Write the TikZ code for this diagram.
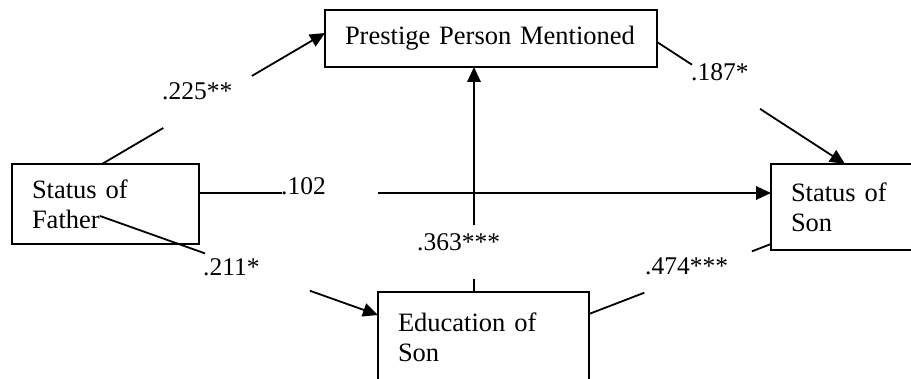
\documentclass[tikz,border=0pt]{standalone}
\usepackage{fontspec}
\setmainfont{Liberation Serif}
\usetikzlibrary{arrows.meta,calc}
\begin{document}
\begin{tikzpicture}[x=1pt,y=-1pt,
  box/.style={draw,line width=2.8pt,anchor=north west,outer sep=0pt,inner xsep=20pt,inner ysep=0pt,align=left,font=\fontsize{26.5}{30}\selectfont},
  lab/.style={anchor=base west,inner sep=0pt,font=\fontsize{25.5}{30}\selectfont},
  conn/.style={line width=1.8pt},
  arr/.style={conn,-{Triangle[length=15pt,width=13.5pt]}}]
\useasboundingbox (0,0) rectangle (911,379);
\clip (0,0) rectangle (911,379);
% boxes
\node[box,text width=292pt,minimum height=57pt] (pr) at (325,10) {Prestige Person Mentioned};
\node[box,text width=147pt,minimum height=80pt] (fa) at (12,164) {Status of\\Father};
\node[box,text width=147pt,minimum height=86pt] (so) at (771,164) {Status of\\Son};
\node[box,text width=171pt,minimum height=90pt] (ed) at (378,292) {Education of\\Son};
% labels
\node[lab] (l225) at (162,100) {.225**};
\node[lab] (l187) at (691,81) {.187*};
\node[lab] (l102) at (281,195) {.102};
\node[lab] (l363) at (417,251) {.363***};
\node[lab] (l211) at (203,276) {.211*};
\node[lab] (l474) at (645,275) {.474***};
% connector end points
\coordinate (a1) at ($(fa.north west)+(90,0)$);
\coordinate (b1) at ($(pr.north west)+(0,23)$);
\coordinate (a2) at ($(pr.north east)+(0,32)$);
\coordinate (b2) at ($(so.north west)+(74,0)$);
\coordinate (a3) at ($(fa.north east)+(0,29)$);
\coordinate (b3) at ($(so.north west)+(0,29)$);
\coordinate (a4) at ($(ed.north west)+(96,0)$);
\coordinate (b4) at ($(pr.south west)+(149,0)$);
\coordinate (a5) at ($(fa.north west)+(88,52)$);
\coordinate (b5) at ($(ed.north west)+(0,23)$);
\coordinate (a6) at ($(ed.north east)+(0,22)$);
\coordinate (b6) at ($(so.north west)+(0,80)$);
% gap ends
\coordinate (g1a) at ($(a1)!0.275!(b1)$);
\coordinate (g1b) at ($(a1)!0.672!(b1)$);
\coordinate (g2a) at ($(a2)!0.186!(b2)$);
\coordinate (g2b) at ($(a2)!0.548!(b2)$);
\coordinate (g3a) at ($(a3)!0.145!(b3)$);
\coordinate (g3b) at ($(a3)!0.313!(b3)$);
\coordinate (g4a) at ($(a4)!0.058!(b4)$);
\coordinate (g4b) at ($(a4)!0.298!(b4)$);
\coordinate (g5a) at ($(a5)!0.378!(b5)$);
\coordinate (g5b) at ($(a5)!0.755!(b5)$);
\coordinate (g6a) at ($(a6)!0.304!(b6)$);
\coordinate (g6b) at ($(a6)!0.895!(b6)$);
% connectors
\draw[conn] (a1) -- (g1a);
\draw[arr] (g1b) -- (b1);
\draw[conn] (a2) -- (g2a);
\draw[arr] (g2b) -- (b2);
\draw[conn] (a3) -- (g3a);
\draw[arr] (g3b) -- (b3);
\draw[conn] (a4) -- (g4a);
\draw[arr] (g4b) -- (b4);
\draw[conn] (a5) -- (g5a);
\draw[arr] (g5b) -- (b5);
\draw[conn] (a6) -- (g6a);
\draw[conn] (g6b) -- (b6);
\end{tikzpicture}
\end{document}
